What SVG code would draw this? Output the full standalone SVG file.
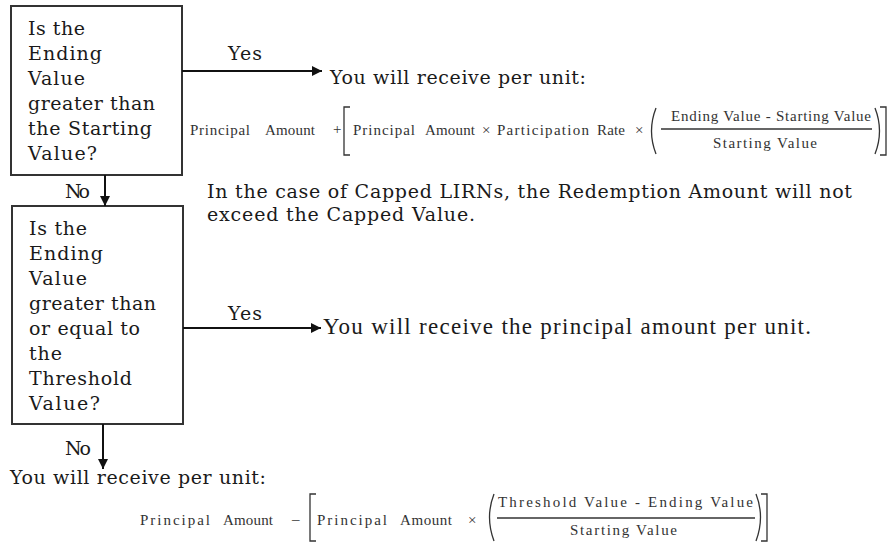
<svg xmlns="http://www.w3.org/2000/svg" width="888" height="544" viewBox="0 0 888 544">
<style>
.bk{font-family:"DejaVu Serif","Liberation Serif",serif;font-size:19px;fill:#1a1a1a}
.tr{font-family:"Liberation Serif",serif;font-size:23px;fill:#1a1a1a}
.fm{font-family:"Liberation Serif",serif;font-size:15px;fill:#333}
.box{fill:#fff;stroke:#333;stroke-width:2}
.ln{stroke:#111;stroke-width:2;fill:none}
.br{stroke:#333;stroke-width:1.3;fill:none}
</style>
<defs>
<marker id="ah" viewBox="0 0 10 10" refX="10" refY="5" markerWidth="10" markerHeight="10" markerUnits="userSpaceOnUse" orient="auto">
<path d="M0,0 L10,5 L0,10 z" fill="#111"/>
</marker>
</defs>
<rect width="888" height="544" fill="#fff"/>

<g id="q1">
<rect class="box" x="11" y="6" width="171" height="169"/>
<text class="bk" x="28" y="35" textLength="57">Is the</text>
<text class="bk" x="28" y="60" textLength="74">Ending</text>
<text class="bk" x="28" y="85" textLength="57">Value</text>
<text class="bk" x="28" y="110" textLength="127">greater than</text>
<text class="bk" x="28" y="135" textLength="124">the Starting</text>
<text class="bk" x="28" y="160" textLength="69">Value?</text>
</g>

<g id="q2">
<rect class="box" x="12" y="206" width="171" height="218"/>
<text class="bk" x="29" y="235" textLength="58">Is the</text>
<text class="bk" x="29" y="260" textLength="74">Ending</text>
<text class="bk" x="29" y="285" textLength="58">Value</text>
<text class="bk" x="29" y="310" textLength="127">greater than</text>
<text class="bk" x="29" y="335" textLength="111">or equal to</text>
<text class="bk" x="29" y="360" textLength="33">the</text>
<text class="bk" x="29" y="385" textLength="103">Threshold</text>
<text class="bk" x="29" y="410" textLength="71">Value?</text>
</g>

<g id="r1">
<text class="bk" x="330" y="84" textLength="256">You will receive per unit:</text>
<text class="fm" x="190" y="135" textLength="60">Principal</text>
<text class="fm" x="265" y="135" textLength="50">Amount</text>
<text class="fm" x="333" y="134">+</text>
<path class="br" d="M350,107 H344 V155 H350"/>
<text class="fm" x="353" y="135" textLength="62">Principal</text>
<text class="fm" x="425" y="135" textLength="50">Amount</text>
<text class="fm" x="482" y="135">×</text>
<text class="fm" x="497" y="135" textLength="92">Participation</text>
<text class="fm" x="597" y="135" textLength="28">Rate</text>
<text class="fm" x="635" y="135">×</text>
<path class="br" d="M656,108 Q647,131 656,154"/>
<text class="fm" x="671" y="121" textLength="200">Ending  Value  - Starting  Value</text>
<line x1="661" y1="129" x2="872" y2="129" stroke="#333" stroke-width="1.3"/>
<text class="fm" x="713" y="148" textLength="104">Starting  Value</text>
<path class="br" d="M875,108 Q884,131 875,154"/>
<path class="br" d="M880,107 H886 V155 H880"/>
</g>

<g id="note">
<text class="bk" x="207" y="198" textLength="645">In the case of Capped LIRNs, the Redemption Amount will not</text>
<text class="bk" x="207" y="221" textLength="268">exceed the Capped Value.</text>
</g>

<g id="r2">
<text class="tr" x="323" y="334" textLength="488">You will receive the principal amount per unit.</text>
</g>

<g id="r3">
<text class="bk" x="10" y="484" textLength="256">You will receive per unit:</text>
<text class="fm" x="140" y="525" textLength="70">Principal</text>
<text class="fm" x="223" y="525" textLength="50">Amount</text>
<text class="fm" x="292" y="524">–</text>
<path class="br" d="M316,494 H310 V541 H316"/>
<text class="fm" x="317" y="525" textLength="70">Principal</text>
<text class="fm" x="400" y="525" textLength="52">Amount</text>
<text class="fm" x="468" y="525">×</text>
<path class="br" d="M494,494 Q485,517 494,541"/>
<text class="fm" x="498" y="507" textLength="255">Threshold  Value  - Ending  Value</text>
<line x1="497" y1="518" x2="755" y2="518" stroke="#333" stroke-width="1.3"/>
<text class="fm" x="570" y="535" textLength="107">Starting  Value</text>
<path class="br" d="M756,494 Q765,517 756,541"/>
<path class="br" d="M761,494 H767 V541 H761"/>
</g>

<g id="connectors">
<line class="ln" x1="182" y1="71" x2="322" y2="71" marker-end="url(#ah)"/>
<line class="ln" x1="105" y1="175" x2="105" y2="206" marker-end="url(#ah)"/>
<line class="ln" x1="183" y1="328" x2="321" y2="328" marker-end="url(#ah)"/>
<line class="ln" x1="103" y1="424" x2="103" y2="469" marker-end="url(#ah)"/>
<text class="bk" x="228" y="60" textLength="34">Yes</text>
<text class="bk" x="65" y="198" textLength="25">No</text>
<text class="bk" x="228" y="320" textLength="34">Yes</text>
<text class="bk" x="65" y="455" textLength="26">No</text>
</g>
</svg>
